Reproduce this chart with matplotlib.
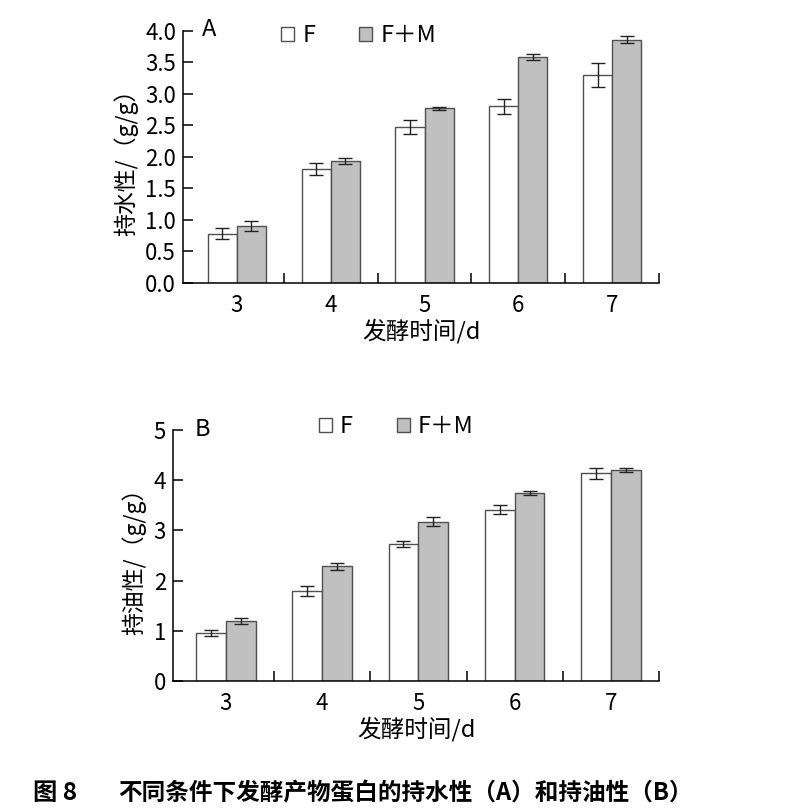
import numpy as np
import matplotlib.pyplot as plt
from matplotlib.patches import Patch

plt.rcParams['font.family'] = ['Noto Sans CJK SC', 'DejaVu Sans']

days = ['3', '4', '5', '6', '7']

# panel A: water holding capacity
water_f = [0.78, 1.81, 2.48, 2.80, 3.29]
water_f_err = [0.09, 0.10, 0.11, 0.12, 0.19]
water_fm = [0.90, 1.93, 2.77, 3.58, 3.86]
water_fm_err = [0.08, 0.05, 0.02, 0.045, 0.06]

# panel B: oil holding capacity
oil_f = [0.95, 1.80, 2.72, 3.41, 4.14]
oil_f_err = [0.06, 0.10, 0.06, 0.09, 0.11]
oil_fm = [1.19, 2.29, 3.17, 3.75, 4.20]
oil_fm_err = [0.06, 0.07, 0.09, 0.035, 0.045]

fig = plt.figure(figsize=(7.85, 8.11), dpi=100)
axA = fig.add_axes([183 / 785, 528 / 811, 476 / 785, 252.3 / 811])
axB = fig.add_axes([173 / 785, 130 / 811, 486 / 785, 251 / 811])

x = np.arange(len(days))
w = 0.31
edge = '#505050'
gray = '#c0c0c0'


def draw(ax, f, ferr, fm, fmerr, ymax, yticks, fmt, ylabel, letter, xl, letx, legx, legy):
    ekw = dict(elinewidth=1.0, capthick=1.0, ecolor='#222222')
    ax.bar(x - w / 2, f, w, color='white', edgecolor=edge, linewidth=1.0,
           yerr=ferr, capsize=5, error_kw=ekw)
    ax.bar(x + w / 2, fm, w, color=gray, edgecolor=edge, linewidth=1.0,
           yerr=fmerr, capsize=5, error_kw=ekw)
    ax.set_xlim(xl, len(days) - 0.5)
    ax.set_ylim(0, ymax)
    ax.set_yticks(yticks)
    ax.set_yticklabels([fmt % v for v in yticks])
    ax.set_xticks(x)
    ax.set_xticklabels(days)
    ax.set_xticks(np.arange(len(days)) + 0.5, minor=True)
    ax.tick_params(axis='x', which='major', length=0, labelsize=16, pad=8)
    ax.tick_params(axis='x', which='minor', direction='in', length=7, width=1.1)
    ax.tick_params(axis='y', direction='in', length=7, width=1.1, labelsize=16, pad=5)
    for s in ['top', 'right']:
        ax.spines[s].set_visible(False)
    for s in ['left', 'bottom']:
        ax.spines[s].set_linewidth(1.1)
    ax.set_xlabel('发酵时间/d', fontsize=17, labelpad=1)
    ax.set_ylabel(ylabel, fontsize=16.5, labelpad=5)
    ax.text(letx, 1.003, letter, transform=ax.transAxes, fontsize=17, va='center', ha='left')
    handles = [Patch(facecolor='white', edgecolor=edge, linewidth=1.0, label='F'),
               Patch(facecolor=gray, edgecolor=edge, linewidth=1.0, label='F＋M')]
    ax.legend(handles=handles, ncol=2, frameon=False, loc='center left',
              bbox_to_anchor=(legx, legy), fontsize=17, handlelength=0.55,
              handleheight=0.55, handletextpad=0.35, columnspacing=1.85,
              borderpad=0, borderaxespad=0)


draw(axA, water_f, water_f_err, water_fm, water_fm_err, 4.0,
     np.arange(0, 4.01, 0.5), '%.1f', '持水性/（g/g）', 'A', -0.575, 0.04, 0.206, 0.979)
draw(axB, oil_f, oil_f_err, oil_fm, oil_fm_err, 5,
     np.arange(0, 6, 1), '%d', '持油性/（g/g）', 'B', -0.55, 0.045, 0.300, 1.012)

fig.text(33 / 785, 18 / 811, '图 8', ha='left', va='center', fontsize=17.5, fontweight='bold')
fig.text(118 / 785, 18 / 811, '不同条件下发酵产物蛋白的持水性（A）和持油性（B）',
         ha='left', va='center', fontsize=17, fontweight='bold')

fig.savefig('out.png', dpi=100)
